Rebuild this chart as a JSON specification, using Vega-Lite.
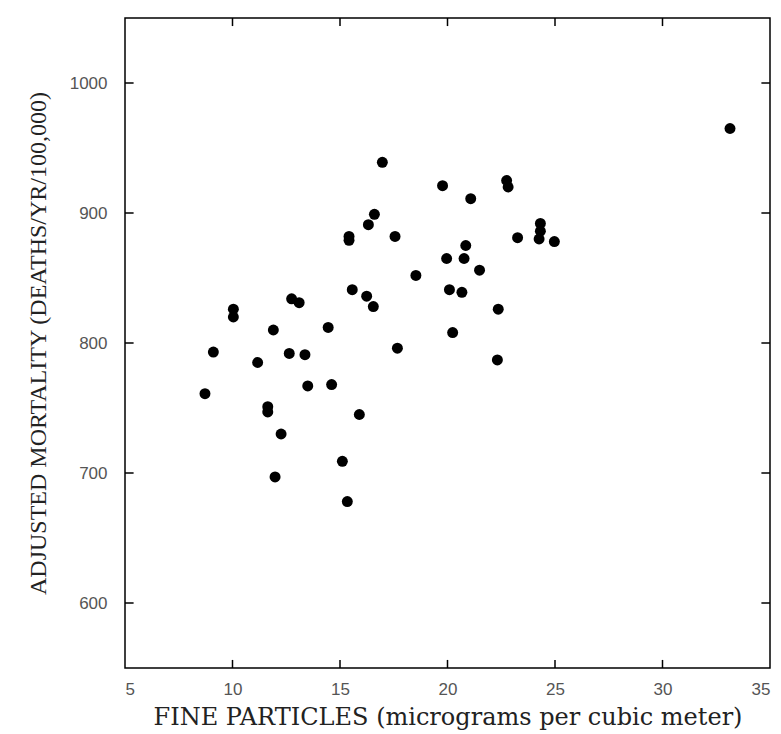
{
  "$schema": "https://vega.github.io/schema/vega-lite/v6.json",
  "width": 645,
  "height": 650,
  "autosize": "none",
  "padding": {"left": 125, "top": 18, "right": 11, "bottom": 66},
  "background": "white",
  "config": {
    "view": {"stroke": "black", "strokeWidth": 1.5},
    "axis": {
      "grid": false,
      "domain": false,
      "ticks": false,
      "tickSize": 0,
      "labelFont": "Liberation Sans",
      "labelFontSize": 17,
      "labelColor": "#555",
      "titleFont": "Liberation Serif",
      "titleFontSize": 24,
      "titleFontWeight": "normal",
      "titleColor": "#222"
    }
  },
  "datasets": {
    "cities": [
      {"fine": 8.72, "mortality": 761},
      {"fine": 9.11, "mortality": 793},
      {"fine": 10.04, "mortality": 826},
      {"fine": 10.04, "mortality": 820},
      {"fine": 11.17, "mortality": 785},
      {"fine": 11.9, "mortality": 810},
      {"fine": 11.64, "mortality": 751},
      {"fine": 11.64, "mortality": 747},
      {"fine": 12.26, "mortality": 730},
      {"fine": 11.98, "mortality": 697},
      {"fine": 12.64, "mortality": 792},
      {"fine": 12.75, "mortality": 834},
      {"fine": 13.1, "mortality": 831},
      {"fine": 13.37, "mortality": 791},
      {"fine": 13.5, "mortality": 767},
      {"fine": 14.45, "mortality": 812},
      {"fine": 14.61, "mortality": 768},
      {"fine": 15.11, "mortality": 709},
      {"fine": 15.34, "mortality": 678},
      {"fine": 15.42, "mortality": 882},
      {"fine": 15.42, "mortality": 879},
      {"fine": 15.57, "mortality": 841},
      {"fine": 15.9, "mortality": 745},
      {"fine": 16.24, "mortality": 836},
      {"fine": 16.32, "mortality": 891},
      {"fine": 16.55, "mortality": 828},
      {"fine": 16.6, "mortality": 899},
      {"fine": 16.97, "mortality": 939},
      {"fine": 17.56, "mortality": 882},
      {"fine": 17.67, "mortality": 796},
      {"fine": 18.53, "mortality": 852},
      {"fine": 19.77, "mortality": 921},
      {"fine": 19.96, "mortality": 865},
      {"fine": 20.09, "mortality": 841},
      {"fine": 20.24, "mortality": 808},
      {"fine": 20.67, "mortality": 839},
      {"fine": 20.77, "mortality": 865},
      {"fine": 20.85, "mortality": 875},
      {"fine": 21.08, "mortality": 911},
      {"fine": 21.49, "mortality": 856},
      {"fine": 22.32, "mortality": 787},
      {"fine": 22.36, "mortality": 826},
      {"fine": 22.75, "mortality": 925},
      {"fine": 22.82, "mortality": 920},
      {"fine": 23.26, "mortality": 881},
      {"fine": 24.26, "mortality": 880},
      {"fine": 24.32, "mortality": 886},
      {"fine": 24.32, "mortality": 892},
      {"fine": 24.97, "mortality": 878},
      {"fine": 33.14, "mortality": 965}
    ],
    "xticks": [{"v": 10}, {"v": 15}, {"v": 20}, {"v": 25}, {"v": 30}],
    "yticks": [{"v": 600}, {"v": 700}, {"v": 800}, {"v": 900}, {"v": 1000}]
  },
  "layer": [
    {
      "data": {"name": "cities"},
      "mark": {"type": "point", "filled": true, "color": "black", "size": 120, "opacity": 1},
      "encoding": {
        "x": {
          "field": "fine", "type": "quantitative",
          "title": "FINE PARTICLES (micrograms per cubic meter)",
          "scale": {"domain": [5, 35], "nice": false, "zero": false},
          "axis": {"values": [5, 10, 15, 20, 25, 30, 35], "format": "d", "labelPadding": 13, "titleFont": "DejaVu Serif", "titleFontSize": 24, "titlePadding": 8}
        },
        "y": {
          "field": "mortality", "type": "quantitative",
          "title": "ADJUSTED MORTALITY (DEATHS/YR/100,000)",
          "scale": {"domain": [550, 1050], "nice": false, "zero": false},
          "axis": {"values": [600, 700, 800, 900, 1000], "format": "d", "labelPadding": 18, "titlePadding": 19}
        }
      }
    },
    {
      "data": {"name": "xticks"},
      "mark": {"type": "rule", "color": "black", "strokeWidth": 1.5},
      "encoding": {
        "x": {"field": "v", "type": "quantitative", "title": "FINE PARTICLES (micrograms per cubic meter)"},
        "y": {"datum": 550, "type": "quantitative", "title": "ADJUSTED MORTALITY (DEATHS/YR/100,000)"},
        "y2": {"datum": 556.2}
      }
    },
    {
      "data": {"name": "xticks"},
      "mark": {"type": "rule", "color": "black", "strokeWidth": 1.5},
      "encoding": {
        "x": {"field": "v", "type": "quantitative", "title": "FINE PARTICLES (micrograms per cubic meter)"},
        "y": {"datum": 1050, "type": "quantitative", "title": "ADJUSTED MORTALITY (DEATHS/YR/100,000)"},
        "y2": {"datum": 1043.8}
      }
    },
    {
      "data": {"name": "yticks"},
      "mark": {"type": "rule", "color": "black", "strokeWidth": 1.5},
      "encoding": {
        "y": {"field": "v", "type": "quantitative", "title": "ADJUSTED MORTALITY (DEATHS/YR/100,000)"},
        "x": {"datum": 5, "type": "quantitative", "title": "FINE PARTICLES (micrograms per cubic meter)"},
        "x2": {"datum": 5.4}
      }
    },
    {
      "data": {"name": "yticks"},
      "mark": {"type": "rule", "color": "black", "strokeWidth": 1.5},
      "encoding": {
        "y": {"field": "v", "type": "quantitative", "title": "ADJUSTED MORTALITY (DEATHS/YR/100,000)"},
        "x": {"datum": 35, "type": "quantitative", "title": "FINE PARTICLES (micrograms per cubic meter)"},
        "x2": {"datum": 34.6}
      }
    }
  ]
}
